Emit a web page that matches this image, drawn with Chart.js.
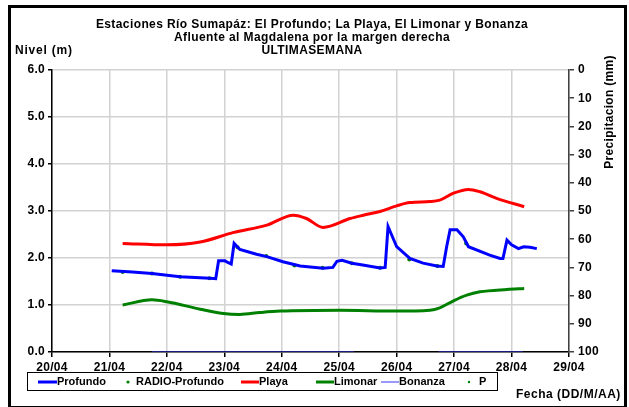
<!DOCTYPE html>
<html>
<head>
<meta charset="utf-8">
<script src="https://cdn.jsdelivr.net/npm/chart.js@4/dist/chart.umd.min.js"></script>
<style>
  body { margin: 0; background: #fff; }
  #marco { position: absolute; left: 8px; top: 5px; width: 613px; height: 398px; border: 3px solid #000; }
  #wrap { position: absolute; left: 0; top: 0; width: 629px; height: 407px; }
</style>
</head>
<body>
<div id="marco"></div>
<div id="wrap"><canvas id="grafico" width="629" height="407"></canvas></div>
<script>
// dias contados desde el 20/04
const fechas = ['20/04', '21/04', '22/04', '23/04', '24/04', '25/04', '26/04', '27/04', '28/04', '29/04']
const precipTicks = [0, 10, 20, 30, 40, 50, 60, 70, 80, 90, 100]

const profundoDias = [1.04, 1.40, 1.74, 2.23, 2.75, 2.85, 2.90, 3.01, 3.07, 3.12, 3.17, 3.27, 3.56, 3.74, 4.02, 4.32, 4.72, 4.89, 4.96, 5.05, 5.22, 5.41, 5.71, 5.80, 5.85, 6.00, 6.23, 6.46, 6.70, 6.81, 6.87, 6.93, 7.05, 7.16, 7.25, 7.62, 7.80, 7.85, 7.92, 8.00, 8.12, 8.21, 8.32, 8.44]
const profundoNivel = [1.73, 1.70, 1.67, 1.60, 1.57, 1.56, 1.94, 1.94, 1.90, 1.87, 2.31, 2.18, 2.08, 2.03, 1.92, 1.83, 1.78, 1.80, 1.93, 1.95, 1.89, 1.85, 1.79, 1.80, 2.67, 2.24, 1.99, 1.89, 1.83, 1.82, 2.24, 2.60, 2.60, 2.45, 2.24, 2.06, 1.99, 1.99, 2.38, 2.28, 2.20, 2.24, 2.23, 2.20]

const radioDias = [1.23, 1.74, 2.23, 2.74, 3.23, 3.73, 4.22, 4.71, 5.22, 5.71, 6.22, 6.71, 7.21]
const radioNivel = [1.70, 1.67, 1.60, 1.57, 2.23, 2.04, 1.84, 1.79, 1.89, 1.79, 1.97, 1.83, 2.31]

const playaDias = [1.23, 2.00, 2.58, 3.15, 3.74, 4.20, 4.43, 4.72, 5.19, 5.42, 5.71, 6.00, 6.23, 6.58, 6.75, 6.99, 7.25, 7.45, 7.74, 8.22]
const playaNivel = [2.31, 2.28, 2.34, 2.54, 2.70, 2.91, 2.84, 2.65, 2.84, 2.91, 2.99, 3.11, 3.18, 3.20, 3.23, 3.38, 3.46, 3.41, 3.27, 3.09]

const limonarDias = [1.23, 1.74, 2.00, 2.58, 2.98, 3.27, 3.62, 3.97, 5.01, 5.97, 6.58, 6.75, 6.99, 7.22, 7.45, 7.92, 8.22]
const limonarNivel = [1.00, 1.11, 1.07, 0.91, 0.82, 0.80, 0.84, 0.87, 0.89, 0.87, 0.89, 0.94, 1.09, 1.21, 1.28, 1.33, 1.35]

const bonanzaDias = [1.74, 5.26, 6.00, 6.73, 8.20]
const bonanzaNivel = [0, 0, null, 0, 0]

// precipitacion: sin registros en la semana
const pDias = []
const pValores = []

const pares = (xs, ys) => xs.map((x, i) => ({ x: x, y: ys[i] }))

const fuente = 'Liberation Sans, Arial, sans-serif'
const negrita = (s) => ({ family: fuente, size: s, weight: 'bold' })

// el original tiene letras algo espaciadas
const espaciado = {
  id: 'espaciado',
  beforeUpdate(chart) { chart.ctx.letterSpacing = '0.3px' },
  beforeDraw(chart) { chart.ctx.letterSpacing = '0.3px' }
}

// titulos, rotulos y leyenda
const textos = {
  id: 'textos',
  afterDraw(chart) {
    const ctx = chart.ctx
    ctx.save()
    ctx.fillStyle = '#000'
    ctx.letterSpacing = '0.4px'
    ctx.font = 'bold 12px ' + fuente
    ctx.textAlign = 'center'
    ctx.textBaseline = 'middle'
    ctx.fillText('Estaciones Río Sumapáz: El Profundo; La Playa, El Limonar y Bonanza', 312, 25)
    ctx.fillText('Afluente al Magdalena por la margen derecha', 312, 38)
    ctx.fillText('ULTIMASEMANA', 312, 51)
    ctx.textAlign = 'left'
    ctx.letterSpacing = '0.8px'
    ctx.font = 'bold 12px ' + fuente
    ctx.fillText('Nivel (m)', 15, 51)
    ctx.letterSpacing = '0.5px'
    ctx.fillText('Fecha (DD/M/AA)', 516, 395)
    ctx.save()
    ctx.translate(610, 112)
    ctx.rotate(-Math.PI / 2)
    ctx.textAlign = 'center'
    ctx.font = 'bold 12px ' + fuente
    ctx.letterSpacing = '0.3px'
    ctx.fillText('Precipitacion (mm)', 0, 0)
    ctx.restore()

    // leyenda
    ctx.strokeStyle = '#000'
    ctx.lineWidth = 1
    ctx.strokeRect(27.5, 372.5, 470, 18)
    ctx.font = 'bold 11px ' + fuente
    ctx.letterSpacing = '0px'
    const yl = 382
    const linea = (x1, x2, col, w) => {
      ctx.strokeStyle = col; ctx.lineWidth = w
      ctx.beginPath(); ctx.moveTo(x1, yl); ctx.lineTo(x2, yl); ctx.stroke()
    }
    const punto = (x, r) => {
      ctx.fillStyle = '#008000'
      ctx.beginPath(); ctx.arc(x, yl, r, 0, Math.PI * 2); ctx.fill()
    }
    linea(38, 57, '#0000ff', 3)
    ctx.fillStyle = '#000'; ctx.fillText('Profundo', 57, yl)
    punto(128, 1.6)
    ctx.fillStyle = '#000'; ctx.fillText('RADIO-Profundo', 136, yl)
    linea(241, 259, '#ff0000', 3)
    ctx.fillStyle = '#000'; ctx.fillText('Playa', 259, yl)
    linea(316, 334, '#008000', 3)
    ctx.fillStyle = '#000'; ctx.fillText('Limonar', 334, yl)
    linea(381, 399, '#3333ff', 1)
    ctx.fillStyle = '#000'; ctx.fillText('Bonanza', 399, yl)
    punto(469, 1.2)
    ctx.fillStyle = '#000'; ctx.fillText('P', 479, yl)
    ctx.restore()
  }
}

new Chart(document.getElementById('grafico'), {
  type: 'line',
  data: {
    datasets: [
      { label: 'Bonanza', data: pares(bonanzaDias, bonanzaNivel), borderColor: '#3333ff', borderWidth: 1, pointRadius: 0, spanGaps: false, yAxisID: 'y' },
      { label: 'Limonar', data: pares(limonarDias, limonarNivel), borderColor: '#008000', borderWidth: 3, pointRadius: 0, cubicInterpolationMode: 'monotone', yAxisID: 'y' },
      { label: 'Playa', data: pares(playaDias, playaNivel), borderColor: '#ff0000', borderWidth: 3, pointRadius: 0, cubicInterpolationMode: 'monotone', yAxisID: 'y' },
      { label: 'Profundo', data: pares(profundoDias, profundoNivel), borderColor: '#0000ff', borderWidth: 3, pointRadius: 0, tension: 0, yAxisID: 'y' },
      { label: 'RADIO-Profundo', data: pares(radioDias, radioNivel), showLine: false, pointRadius: 2, pointBackgroundColor: '#008000', pointBorderWidth: 0, yAxisID: 'y' },
      { label: 'P', data: pares(pDias, pValores), showLine: false, pointRadius: 1.5, pointBackgroundColor: '#008000', pointBorderWidth: 0, yAxisID: 'y2' }
    ]
  },
  options: {
    responsive: false,
    animation: false,
    layout: { padding: { top: 70, left: 0, right: 0, bottom: 0 } },
    plugins: { legend: { display: false }, title: { display: false }, tooltip: { enabled: false } },
    scales: {
      x: {
        type: 'linear', min: 0, max: 9,
        ticks: { stepSize: 1, autoSkip: false, maxRotation: 0, color: '#000', font: negrita(12), padding: 3, callback: (v) => fechas[v] },
        grid: { color: '#d2d2d2', lineWidth: 1.5, tickLength: 5, tickColor: '#000' },
        border: { color: '#000', width: 1.5 },
        afterFit: (s) => { s.height = 55 }
      },
      y: {
        position: 'left', min: 0, max: 6,
        ticks: { stepSize: 1, color: '#000', font: negrita(12), padding: 3, callback: (v) => v.toFixed(1) },
        grid: { color: '#d2d2d2', lineWidth: 1.5, tickLength: 4, tickColor: '#000' },
        border: { color: '#000', width: 1.5 },
        afterFit: (s) => { s.width = 52 }
      },
      y2: {
        position: 'right', min: 0, max: 100, reverse: true,
        afterBuildTicks: (s) => { s.ticks = precipTicks.map((v) => ({ value: v })) },
        ticks: { color: '#000', font: negrita(12), padding: 4 },
        grid: { drawOnChartArea: false, tickLength: 5, color: '#404040', lineWidth: 1.5 },
        border: { color: '#404040', width: 1.5 },
        afterFit: (s) => { s.width = 60 }
      }
    }
  },
  plugins: [espaciado, textos]
})
</script>
</body>
</html>
